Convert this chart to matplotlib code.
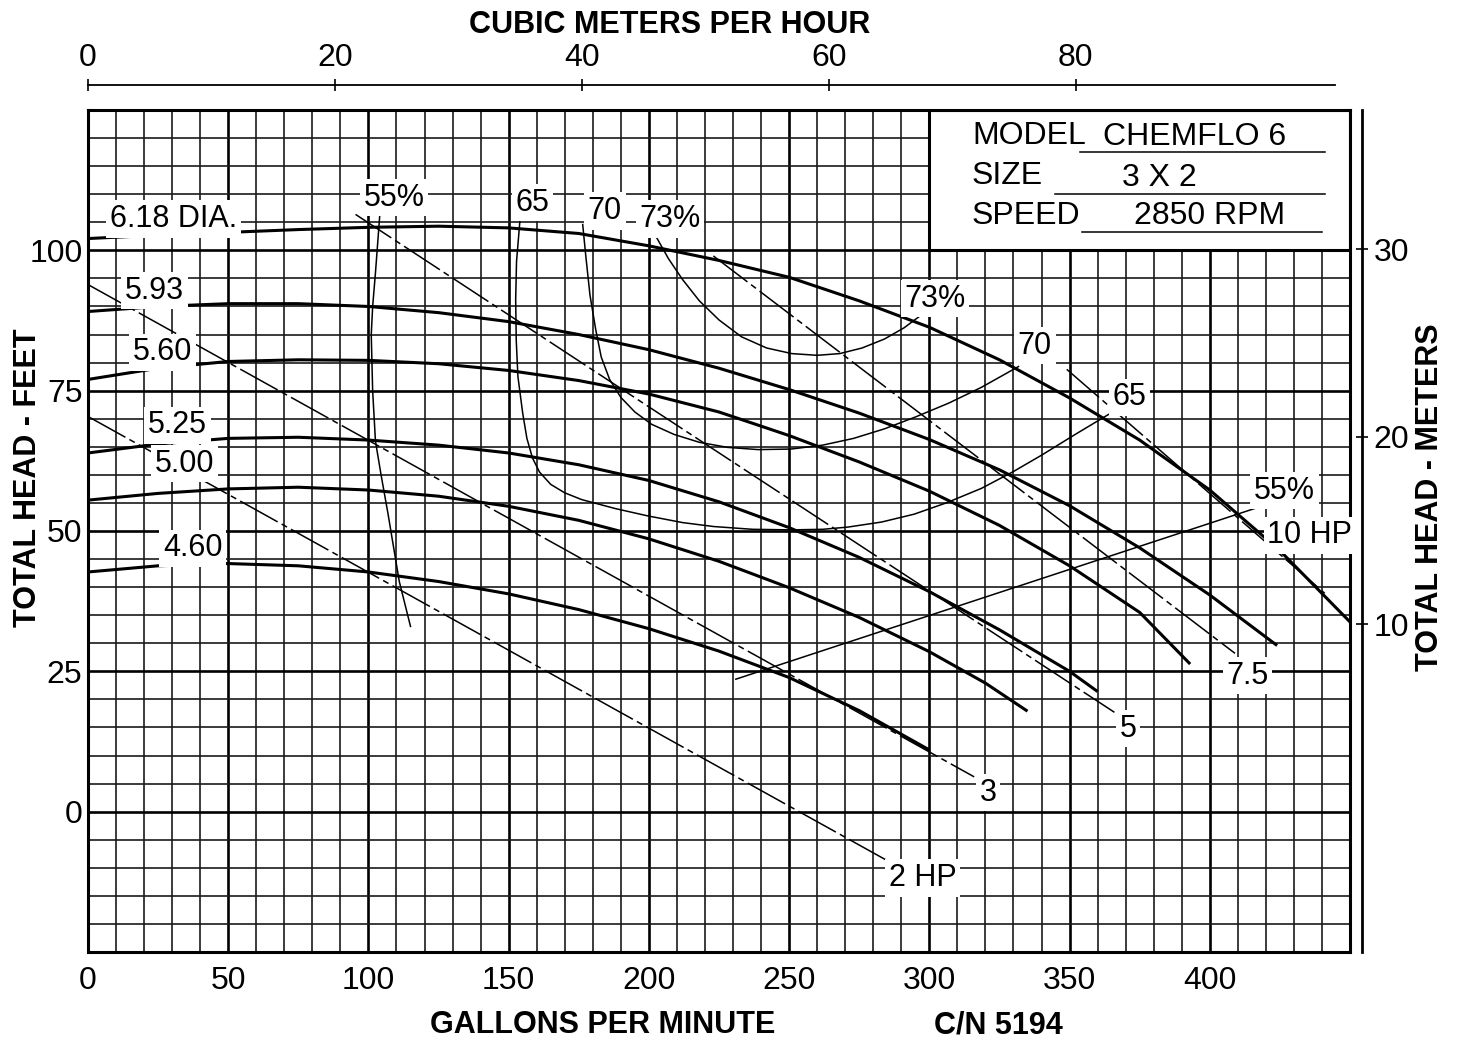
import matplotlib
matplotlib.use("Agg")
import matplotlib.pyplot as plt
from matplotlib.patches import Rectangle
from matplotlib.ticker import MultipleLocator

plt.rcParams['font.family'] = ['Liberation Sans Narrow', 'Liberation Sans', 'DejaVu Sans']

# impeller diameter curves: gpm, head (ft)
gpm_618 = [0, 25, 50, 75, 100, 125, 150, 175, 200, 225, 250, 275, 300, 325, 350, 375, 400, 425, 450]
head_618 = [102.1, 102.7, 103.2, 103.7, 104.1, 104.3, 104.0, 103.0, 100.8, 98.2, 95.2, 91.0, 86.3, 80.5, 73.7, 66.2, 57.3, 46.5, 33.8]
gpm_593 = [0, 25, 50, 75, 100, 125, 150, 175, 200, 225, 250, 275, 300, 325, 350, 375, 400, 424]
head_593 = [89.1, 90.0, 90.5, 90.5, 90.0, 88.9, 87.3, 85.0, 82.3, 79.0, 75.2, 71.0, 66.3, 60.9, 54.5, 47.0, 38.6, 29.6]
gpm_560 = [0, 25, 50, 75, 100, 125, 150, 175, 200, 225, 250, 275, 300, 325, 350, 375, 393]
head_560 = [77.0, 79.0, 80.2, 80.5, 80.4, 79.8, 78.6, 76.8, 74.4, 71.2, 67.0, 62.3, 57.1, 51.0, 43.8, 35.5, 26.3]
gpm_525 = [0, 25, 50, 75, 100, 125, 150, 175, 200, 225, 250, 275, 300, 325, 350, 360]
head_525 = [63.9, 65.5, 66.5, 66.7, 66.2, 65.3, 63.9, 61.8, 59.0, 55.2, 50.6, 45.3, 39.2, 32.4, 25.0, 21.4]
gpm_500 = [0, 25, 50, 75, 100, 125, 150, 175, 200, 225, 250, 275, 300, 320, 335]
head_500 = [55.5, 56.7, 57.5, 57.8, 57.3, 56.2, 54.4, 51.9, 48.6, 44.6, 39.9, 34.6, 28.5, 22.9, 17.9]
gpm_460 = [0, 25, 50, 75, 100, 125, 150, 175, 200, 225, 250, 275, 300]
head_460 = [42.7, 43.8, 44.2, 43.8, 42.7, 41.0, 38.8, 36.0, 32.6, 28.6, 23.9, 18.0, 11.0]
dia_labels = ["6.18 DIA.", "5.93", "5.60", "5.25", "5.00", "4.60"]

# efficiency curves
eff55a_gpm = [104, 102.5, 101.5, 101, 101.5, 102.5, 104.5, 107, 111, 115]
eff55a_head = [106, 96, 90, 85, 75, 66, 60, 53, 41, 33]
eff55b_gpm = [231, 419]
eff55b_head = [23.6, 54.5]
eff65_gpm = [154, 152.8, 152.5, 152.7, 153.3, 155, 156.5, 158.5, 161, 165, 170, 176, 188, 199.5, 212, 223,
             237, 250.7, 262, 271, 283, 294.6, 306, 318.6, 330, 340, 352, 365.7]
eff65_head = [105.2, 98, 91.2, 84, 77.5, 71, 66.5, 63, 60.5, 58.3, 56.8, 55.6, 54, 52.7, 51.5, 50.8,
              50.3, 50.2, 50.3, 50.7, 51.6, 53.0, 55.0, 57.6, 60.6, 63.5, 67.2, 71.3]
eff70_gpm = [176.4, 177.5, 179, 181, 183, 186, 190, 195, 201, 209, 218, 228, 239, 250.7, 262, 273, 284,
             295, 307, 318.6, 331.8]
eff70_head = [104.6, 99, 92, 86, 81, 77, 73.8, 71.2, 69, 67.2, 65.8, 64.9, 64.5, 64.6, 65.3, 66.5, 68.2,
              70.3, 72.8, 75.6, 79.3]
eff73_gpm = [202.5, 207, 212, 218, 225, 233, 242, 251, 260, 268, 276, 284, 291, 298]
eff73_head = [102.5, 98.5, 94.8, 91.0, 87.6, 84.6, 82.6, 81.6, 81.3, 81.6, 82.6, 84.2, 86.2, 88.8]

# horsepower lines (start, end)
hp_names = ["2 HP", "3", "5", "7.5", "10 HP"]
hp_gpm = [[0, 286], [0, 316], [95.4, 366], [223, 409], [349, 441]]
hp_head = [[70.4, -9.0], [93.9, 6.2], [106.4, 17.7], [99.0, 28.2], [78.8, 38.9]]

m3h_ticks = [0, 20, 40, 60, 80]
meter_ticks = [10, 20, 30]
GPM_PER_M3H = 4.4029
FT_PER_M = 3.34

FS = 22

fig = plt.figure(figsize=(14.63, 10.46), dpi=100)
ax = fig.add_axes([88/1463, 1 - 952/1046, 1262/1463, 842/1046])
ax.set_xlim(0, 450)
ax.set_ylim(-25, 125)

ax.xaxis.set_major_locator(MultipleLocator(50))
ax.xaxis.set_minor_locator(MultipleLocator(10))
ax.yaxis.set_major_locator(MultipleLocator(25))
ax.yaxis.set_minor_locator(MultipleLocator(5))
ax.set_axisbelow(True)
ax.grid(which='major', color='black', lw=1.9)
ax.grid(which='minor', color='#1a1a1a', lw=1.2)
ax.set_xticks([0, 50, 100, 150, 200, 250, 300, 350, 400])
ax.set_yticks([0, 25, 50, 75, 100])
ax.tick_params(which='both', length=0, labelsize=FS + 1)
ax.tick_params(axis='x', pad=10)
ax.tick_params(axis='y', pad=4)
for s in ax.spines.values():
    s.set_linewidth(2.2)

# info box
ax.add_patch(Rectangle((300, 100), 150, 25, facecolor='white', edgecolor='black', lw=2.2, zorder=2.5))

curves = [(gpm_618, head_618), (gpm_593, head_593), (gpm_560, head_560),
          (gpm_525, head_525), (gpm_500, head_500), (gpm_460, head_460)]
for g, h in curves:
    ax.plot(g, h, color='black', lw=2.2, solid_capstyle='butt', solid_joinstyle='round', zorder=3)

for g, h in [(eff55a_gpm, eff55a_head), (eff55b_gpm, eff55b_head), (eff65_gpm, eff65_head),
             (eff70_gpm, eff70_head), (eff73_gpm, eff73_head)]:
    ax.plot(g, h, color='black', lw=1.1, zorder=3)

for g, h in zip(hp_gpm, hp_head):
    ax.plot(g, h, color='black', lw=1.1, linestyle=(0, (28, 3, 4, 3)), zorder=3)

box = dict(boxstyle='square,pad=0.12', facecolor='white', edgecolor='none')
lab = dict(fontsize=FS, zorder=5, bbox=box)
dia_pos = [(7.8, 105.6), (13.2, 92.8), (16.0, 81.8), (21.4, 68.8), (23.9, 62.0), (26.7, 46.9)]
for t, (x, y) in zip(dia_labels, dia_pos):
    ax.text(x, y, t, ha='left', va='center', **lab)

eff_labels = [("55%", 109.1, 109.4), ("65", 158.6, 108.5), ("70", 184.3, 107.0), ("73%", 207.5, 105.6),
              ("73%", 302.0, 91.4), ("70", 337.6, 83.0), ("65", 371.5, 73.8), ("55%", 426.7, 57.2)]
for t, x, y in eff_labels:
    ax.text(x, y, t, ha='center', va='center', **lab)

hp_pos = [(297.7, -11.8), (320.9, 3.4), (370.8, 14.8), (413.5, 24.2), (435.7, 49.2)]
for t, (x, y) in zip(hp_names, hp_pos):
    ax.text(x, y, t, ha='center', va='center', **lab)

# box content
ax.text(315.2, 120.4, "MODEL", ha='left', va='center', fontsize=FS + 1, zorder=4)
ax.text(315.2, 113.3, "SIZE", ha='left', va='center', fontsize=FS + 1, zorder=4)
ax.text(315.2, 106.2, "SPEED", ha='left', va='center', fontsize=FS + 1, zorder=4)
ax.text(362.0, 120.2, "CHEMFLO 6", ha='left', va='center', fontsize=FS + 1, zorder=4)
ax.text(382.2, 112.8, "3 X 2", ha='center', va='center', fontsize=FS + 1, zorder=4)
ax.text(400.0, 106.2, "2850 RPM", ha='center', va='center', fontsize=FS + 1, zorder=4)
ax.plot([353.6, 441], [117.6, 117.6], color='black', lw=1.1, zorder=4)
ax.plot([344.7, 441], [110.1, 110.1], color='black', lw=1.1, zorder=4)
ax.plot([354.4, 440], [103.3, 103.3], color='black', lw=1.1, zorder=4)

# top axis in cubic meters per hour
top = ax.secondary_xaxis(1.03, functions=(lambda g: g / GPM_PER_M3H, lambda m: m * GPM_PER_M3H))
top.set_xticks(m3h_ticks)
top.tick_params(direction='inout', length=9, width=1.2, labelsize=FS + 1, pad=4)
top.spines['top'].set_linewidth(1.3)
top.spines['top'].set_bounds(0, 101)

# right axis in meters
right = ax.secondary_yaxis(1 + 12/1262, functions=(lambda f: f / FT_PER_M, lambda m: m * FT_PER_M))
right.set_yticks(meter_ticks)
right.tick_params(direction='inout', length=9, width=1.2, labelsize=FS + 1, pad=4)
right.spines['right'].set_linewidth(2.0)

fig.text(670/1463, 1 - 25/1046, "CUBIC METERS PER HOUR", ha='center', va='center', fontsize=FS, fontweight='bold')
fig.text(603/1463, 1 - 1025/1046, "GALLONS PER MINUTE", ha='center', va='center', fontsize=FS, fontweight='bold')
fig.text(998/1463, 1 - 1025/1046, "C/N 5194", ha='center', va='center', fontsize=FS, fontweight='bold')
fig.text(28/1463, 1 - 478/1046, "TOTAL HEAD - FEET", ha='center', va='center', rotation=90, fontsize=FS, fontweight='bold')
fig.text(1430/1463, 1 - 497/1046, "TOTAL HEAD - METERS", ha='center', va='center', rotation=90, fontsize=FS, fontweight='bold')

fig.savefig("out.png", dpi=100, facecolor='white')
